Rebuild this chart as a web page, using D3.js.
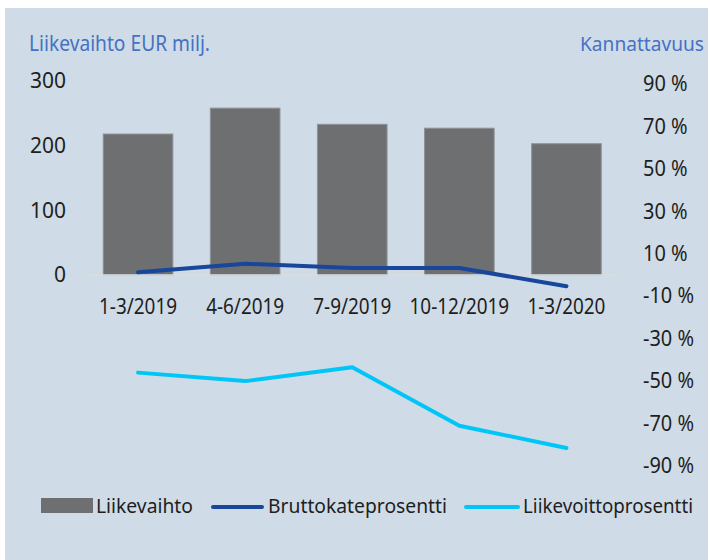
<!DOCTYPE html>
<html>
<head>
<meta charset="utf-8">
<script src="https://cdn.jsdelivr.net/npm/d3@7"></script>
<style>
  html, body { margin: 0; padding: 0; background: #ffffff; }
  svg { display: block; }
  text { font-family: "Noto Sans", "Open Sans", sans-serif; }
</style>
</head>
<body>
<div id="chart"></div>
<script>
// ---- data ----
const categories = ["1-3/2019", "4-6/2019", "7-9/2019", "10-12/2019", "1-3/2020"];
const liikevaihto = [218, 258, 233, 227, 203];
const bruttokateprosentti = [1.3, 5.3, 3.3, 3.3, -5.3];
const liikevoittoprosentti = [-46, -50, -43.5, -71, -81.5];
const leftTicks = [0, 100, 200, 300];
const rightTicks = [-90, -70, -50, -30, -10, 10, 30, 50, 70, 90];
const seriesNames = ["Liikevaihto", "Bruttokateprosentti", "Liikevoittoprosentti"];
const axisTitles = ["Liikevaihto EUR milj.", "Kannattavuus"];

// ---- layout ----
const W = 710, H = 560;
const colors = { bg: "#cfdbe6", bar: "#6e6f70", barStroke: "#8e9297", brutto: "#17469a", voitto: "#00c6f8", title: "#4472c4", text: "#1e1e1e", zero: "#dadcdd" };

const svg = d3.select("#chart").append("svg").attr("width", W).attr("height", H);
svg.append("rect").attr("x", 5).attr("y", 8).attr("width", 703).attr("height", H - 8).attr("fill", colors.bg);

const x = d3.scaleBand().domain(categories).range([84.5, 620]).paddingInner(0.35).paddingOuter(0.175);
const yL = d3.scaleLinear().domain([0, 300]).range([275, 81]);
const yR = d3.scaleLinear().domain([-90, 90]).range([466, 84]);

function squeeze(sel, factor) {
  sel.each(function () {
    const n = this.getComputedTextLength();
    d3.select(this).attr("textLength", n * factor).attr("lengthAdjust", "spacingAndGlyphs");
  });
}

// titles
svg.append("text").attr("x", 29).attr("y", 51).attr("fill", colors.title).attr("font-size", 21)
  .text(axisTitles[0]).attr("textLength", 181).attr("lengthAdjust", "spacingAndGlyphs");
svg.append("text").attr("x", 580).attr("y", 51).attr("fill", colors.title).attr("font-size", 19)
  .text(axisTitles[1]).attr("textLength", 124).attr("lengthAdjust", "spacingAndGlyphs");

// left axis
const gL = svg.append("g").attr("transform", "translate(66,0)")
  .call(d3.axisLeft(yL).tickValues(leftTicks).tickSize(0).tickPadding(0).tickFormat(d3.format("d")));
gL.select(".domain").remove();
gL.selectAll("text").attr("font-size", 21).attr("fill", colors.text).attr("font-family", "Noto Sans");

// right axis
const gR = svg.append("g").attr("transform", "translate(643,0)")
  .call(d3.axisRight(yR).tickValues(rightTicks).tickSize(0).tickPadding(0).tickFormat(d => d + " %"));
gR.select(".domain").remove();
gR.selectAll("text").attr("font-size", 21).attr("fill", colors.text).attr("font-family", "Noto Sans");
squeeze(gR.selectAll("text"), 0.95);

// bars
svg.append("g").selectAll("rect").data(liikevaihto).join("rect")
  .attr("x", (d, i) => x(categories[i]))
  .attr("y", d => yL(d))
  .attr("width", x.bandwidth())
  .attr("height", d => yL(0) - yL(d))
  .attr("fill", colors.bar)
  .attr("stroke", colors.barStroke).attr("stroke-width", 1);

// zero line
svg.append("line").attr("x1", x.range()[0]).attr("x2", x.range()[1])
  .attr("y1", yL(0)).attr("y2", yL(0)).attr("stroke", colors.zero).attr("stroke-width", 1.5);

// category labels
const catG = svg.append("g");
catG.selectAll("text").data(categories).join("text")
  .attr("x", d => x(d) + x.bandwidth() / 2).attr("y", 314)
  .attr("text-anchor", "middle").attr("font-size", 21).attr("fill", colors.text)
  .text(d => d);
squeeze(catG.selectAll("text"), 0.9);

// lines
const cx = i => x(categories[i]) + x.bandwidth() / 2;
const lineB = d3.line().x((d, i) => cx(i)).y(d => yR(d));
svg.append("path").datum(bruttokateprosentti).attr("d", lineB)
  .attr("fill", "none").attr("stroke", colors.brutto).attr("stroke-width", 4)
  .attr("stroke-linecap", "round").attr("stroke-linejoin", "round");
svg.append("path").datum(liikevoittoprosentti).attr("d", lineB)
  .attr("fill", "none").attr("stroke", colors.voitto).attr("stroke-width", 4)
  .attr("stroke-linecap", "round").attr("stroke-linejoin", "round");

// legend
const lg = svg.append("g");
lg.append("rect").attr("x", 41).attr("y", 498).attr("width", 52).attr("height", 15).attr("fill", colors.bar);
lg.append("text").attr("x", 96).attr("y", 513).attr("font-size", 20).attr("fill", colors.text)
  .text(seriesNames[0]).attr("textLength", 97).attr("lengthAdjust", "spacingAndGlyphs");
lg.append("line").attr("x1", 213).attr("x2", 262).attr("y1", 507).attr("y2", 507)
  .attr("stroke", colors.brutto).attr("stroke-width", 4).attr("stroke-linecap", "round");
lg.append("text").attr("x", 268).attr("y", 513).attr("font-size", 20).attr("fill", colors.text)
  .text(seriesNames[1]).attr("textLength", 179).attr("lengthAdjust", "spacingAndGlyphs");
lg.append("line").attr("x1", 466).attr("x2", 518).attr("y1", 507).attr("y2", 507)
  .attr("stroke", colors.voitto).attr("stroke-width", 4).attr("stroke-linecap", "round");
lg.append("text").attr("x", 523).attr("y", 513).attr("font-size", 19).attr("fill", colors.text)
  .text(seriesNames[2]).attr("textLength", 170).attr("lengthAdjust", "spacingAndGlyphs");
</script>
</body>
</html>
